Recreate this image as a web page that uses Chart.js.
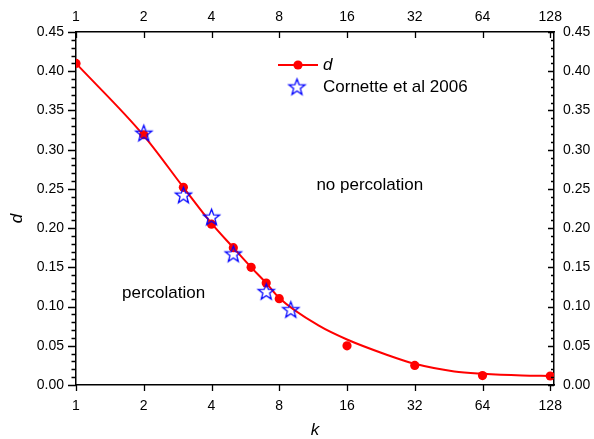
<!DOCTYPE html>
<html>
<head>
<meta charset="utf-8">
<script src="https://cdn.jsdelivr.net/npm/chart.js@4.4.1/dist/chart.umd.min.js"></script>
<style>
    html, body { margin: 0; padding: 0; background: #fff; }
</style>
</head>
<body>
<canvas id="percChart" width="594" height="439"></canvas>
<script>
// tick labels
const kTicks = [1, 2, 4, 8, 16, 32, 64, 128];
const dTicks = [0, 0.05, 0.1, 0.15, 0.2, 0.25, 0.3, 0.35, 0.4, 0.45];

// simulated threshold d(k), red dots
const simK = [1, 2, 3, 4, 5, 6, 7, 8, 16, 32, 64, 128];
const simD = [0.410, 0.319, 0.252, 0.205, 0.175, 0.150, 0.130, 0.110, 0.050, 0.025, 0.012, 0.0115];

// Cornette et al 2006, blue stars
const cornetteK = [2, 3, 4, 5, 7, 9];
const cornetteD = [0.321, 0.242, 0.214, 0.167, 0.119, 0.096];

// fitted curve
const fitK = [1, 2, 3, 4, 5, 6, 7, 8, 12, 16, 24, 32, 48, 64, 96, 128];
const fitD = [0.410, 0.318, 0.252, 0.206, 0.175, 0.150, 0.130, 0.111, 0.0756, 0.058, 0.0386, 0.027, 0.0173, 0.0144, 0.0122, 0.0116];

// region labels
const regionText = ["no percolation", "percolation"];
const regionK = [20.2, 2.45];
const regionD = [0.2545, 0.1173];

const FONT = "'Liberation Sans', Arial, sans-serif";

function points(xs, ys) {
    return xs.map((x, i) => ({ x: x, y: ys[i] }));
}

function makeStar(r, color) {
    const c = document.createElement("canvas");
    const size = Math.ceil(r * 2 + 4);
    c.width = size;
    c.height = size;
    const g = c.getContext("2d");
    g.strokeStyle = color;
    g.lineWidth = 1.3;
    g.beginPath();
    for (let i = 0; i < 10; i++) {
        const rad = i % 2 === 0 ? r : r * 0.42;
        const a = -Math.PI / 2 + i * Math.PI / 5;
        const px = size / 2 + rad * Math.cos(a);
        const py = size / 2 + 0.5 + rad * Math.sin(a);
        if (i === 0) g.moveTo(px, py); else g.lineTo(px, py);
    }
    g.closePath();
    g.stroke();
    return c;
}

const starImg = makeStar(8.5, "#0000ff");

// ticks drawn by hand: outward on left/bottom, inward on top/right, minors on y
const frameTicks = {
    id: "frameTicks",
    afterDraw(chart) {
        const { ctx, chartArea: a, scales } = chart;
        ctx.save();
        ctx.strokeStyle = "#000";
        ctx.lineWidth = 1.3;
        ctx.beginPath();
        kTicks.forEach((k) => {
            const x = Math.round(scales.x.getPixelForValue(k)) + 0.5;
            ctx.moveTo(x, a.bottom);
            ctx.lineTo(x, a.bottom + 6);
            ctx.moveTo(x, a.top);
            ctx.lineTo(x, a.top + 6);
        });
        for (let i = 0; i <= 45; i++) {
            const y = Math.round(scales.y.getPixelForValue(i / 100)) + 0.5;
            const major = i % 5 === 0;
            ctx.moveTo(a.left - (major ? 8 : 4.5), y);
            ctx.lineTo(a.left, y);
            ctx.moveTo(a.right, y);
            ctx.lineTo(a.right - (major ? 6 : 3), y);
        }
        ctx.stroke();
        ctx.restore();
    },
};

// legend, region labels and axis titles
const annotations = {
    id: "annotations",
    afterDraw(chart) {
        const { ctx, chartArea: a, scales } = chart;
        const dots = chart.data.datasets[1];
        ctx.save();

        ctx.strokeStyle = dots.borderColor;
        ctx.lineWidth = 2;
        ctx.beginPath();
        ctx.moveTo(278, 65);
        ctx.lineTo(318, 65);
        ctx.stroke();
        ctx.fillStyle = dots.backgroundColor;
        ctx.beginPath();
        ctx.arc(298, 65, 4.6, 0, Math.PI * 2);
        ctx.fill();
        ctx.drawImage(starImg, 297 - starImg.width / 2, 87 - starImg.height / 2);

        ctx.fillStyle = "#000";
        ctx.textBaseline = "middle";
        ctx.textAlign = "left";
        ctx.font = "italic 17px " + FONT;
        ctx.fillText("d", 323, 65);
        ctx.font = "17px " + FONT;
        ctx.fillText("Cornette et al 2006", 323, 87);

        ctx.textAlign = "center";
        regionText.forEach((t, i) => {
            ctx.fillText(t, scales.x.getPixelForValue(regionK[i]), scales.y.getPixelForValue(regionD[i]));
        });

        ctx.font = "italic 17px " + FONT;
        ctx.fillText("k", (a.left + a.right) / 2, a.bottom + 45);
        ctx.translate(17, (a.top + a.bottom) / 2 + 10);
        ctx.rotate(-Math.PI / 2);
        ctx.fillText("d", 0, 0);
        ctx.restore();
    },
};

function xAxis(position, height, padding) {
    return {
        type: "logarithmic",
        position: position,
        min: 1,
        max: 133,
        afterBuildTicks: (s) => { s.ticks = kTicks.map((v) => ({ value: v })); },
        afterFit: (s) => { s.height = height; },
        grid: { display: false, drawTicks: false },
        border: { display: true, color: "#000", width: 1.5 },
        ticks: {
            autoSkip: false,
            maxRotation: 0,
            padding: padding,
            color: "#000",
            font: { family: FONT, size: 14 },
            callback: (v) => String(v),
        },
    };
}

function yAxis(position, width, padding) {
    return {
        type: "linear",
        position: position,
        min: 0,
        max: 0.45,
        afterBuildTicks: (s) => { s.ticks = dTicks.map((v) => ({ value: v })); },
        afterFit: (s) => { s.width = width; },
        grid: { display: false, drawTicks: false },
        border: { display: true, color: "#000", width: 1.5 },
        ticks: {
            padding: padding,
            color: "#000",
            font: { family: FONT, size: 14 },
            callback: (v) => v.toFixed(2),
        },
    };
}

new Chart(document.getElementById("percChart").getContext("2d"), {
    type: "scatter",
    data: {
        datasets: [
            {
                label: "Cornette et al 2006",
                data: points(cornetteK, cornetteD),
                pointStyle: starImg,
                pointRadius: 9,
                showLine: false,
                order: 0,
            },
            {
                label: "d",
                data: points(simK, simD),
                pointStyle: "circle",
                pointRadius: 4.6,
                borderWidth: 0,
                backgroundColor: "#ff0000",
                borderColor: "#ff0000",
                showLine: false,
                order: 1,
            },
            {
                label: "fit",
                data: points(fitK, fitD),
                showLine: true,
                pointRadius: 0,
                borderWidth: 2,
                borderColor: "#ff0000",
                cubicInterpolationMode: "monotone",
                order: 2,
            },
        ],
    },
    options: {
        responsive: false,
        animation: false,
        layout: { padding: 0 },
        plugins: {
            legend: { display: false },
            tooltip: { enabled: false },
        },
        scales: {
            x: xAxis("bottom", 54, 12.5),
            x2: xAxis("top", 32, 6),
            y: yAxis("left", 76, 12),
            y2: yAxis("right", 40, 9),
        },
    },
    plugins: [frameTicks, annotations],
});
</script>
</body>
</html>
